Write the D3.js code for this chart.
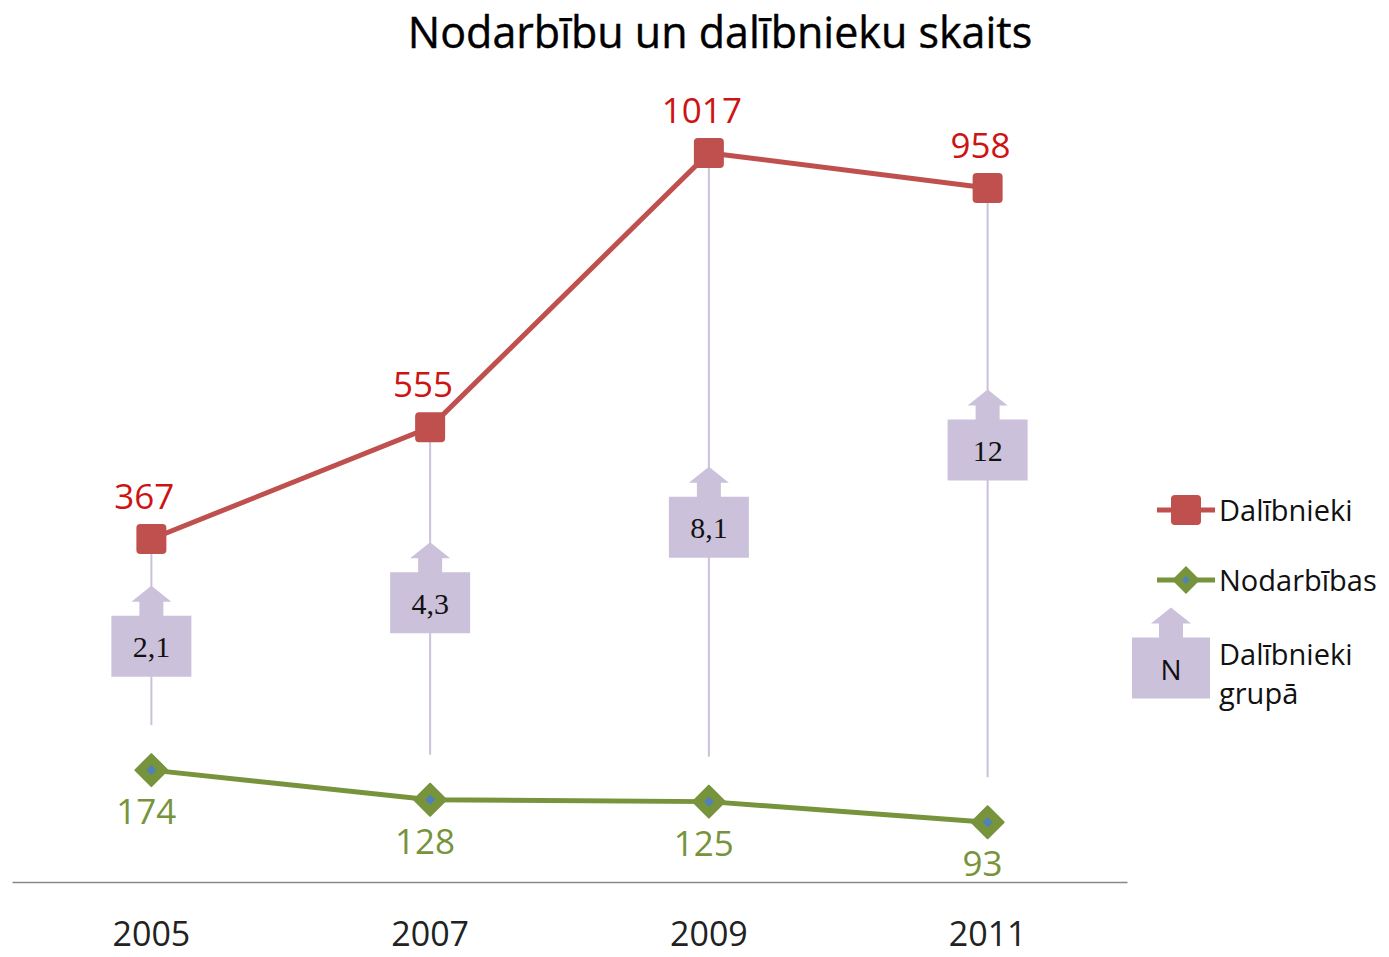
<!DOCTYPE html>
<html>
<head>
<meta charset="utf-8">
<script src="https://cdn.jsdelivr.net/npm/d3@7"></script>
<style>
  html, body { margin: 0; padding: 0; background: #fff; }
  svg { display: block; }
</style>
</head>
<body>
<svg id="chart" width="1389" height="957"></svg>
<script>
// ---- Data ----
const years = ["2005", "2007", "2009", "2011"];
const dalibnieki = [367, 555, 1017, 958];
const nodarbibas = [174, 128, 125, 93];
const dalibniekiGrupa = [2.1, 4.3, 8.1, 12];
const grupaLabels = ["2,1", "4,3", "8,1", "12"];
const titleText = "Nodarbību un dalībnieku skaits";

// ---- Styles ----
const RED = "#C0504D", RED_TXT = "#CC1414";
const GREEN = "#77933C", BLUE = "#4F81BD";
const LAV = "#CCC1DA";
const SANS = "'Open Sans', 'Noto Sans', sans-serif";
const SERIF = "'Liberation Serif', 'DejaVu Serif', serif";

const svg = d3.select("#chart");

// ---- Scales ----
const x = d3.scaleBand().domain(years).range([12, 1127]).padding(0);
const cx = d => x(d) + x.bandwidth() / 2;
const yN = d3.scaleLinear().domain([0, 1000]).range([882, 239]);   // Nodarbības
const yD = d3.scaleLinear().domain([0, 1000]).range([757, 163]);   // Dalībnieki (secondary)
const yG = d3.scaleLinear().domain([0, 12]).range([688, 450]);     // Dalībnieki grupā

// ---- Title ----
svg.append("text").attr("x", 720).attr("y", 48).attr("text-anchor", "middle")
  .attr("font-family", SANS).attr("font-size", 43).attr("fill", "#000")
  .attr("stroke", "#000").attr("stroke-width", 0.4)
  .text(titleText);

// ---- Axis ----
const xAxis = d3.axisBottom(x).tickSize(0).tickPadding(40);
const ax = svg.append("g").attr("transform", "translate(0,882)").call(xAxis);
ax.select(".domain").attr("stroke", "#888").attr("stroke-width", 1.5);
ax.selectAll("text").attr("font-family", SANS).attr("font-size", 34).attr("fill", "#222");

// ---- Vertical connector lines ----
svg.append("g").selectAll("line").data(years).join("line")
  .attr("x1", d => cx(d)).attr("x2", d => cx(d))
  .attr("y1", (d, i) => yD(dalibnieki[i]))
  .attr("y2", (d, i) => yN(nodarbibas[i]) - 45)
  .attr("stroke", LAV).attr("stroke-width", 2);

// ---- Arrow callouts ----
function arrowPath(w, h, stemW, headW, stemH, headH) {
  const t = -h / 2;
  return `M${-w/2},${h/2} L${-w/2},${t} L${-stemW/2},${t} L${-stemW/2},${t-stemH} L${-headW/2},${t-stemH}
    L0,${t-stemH-headH} L${headW/2},${t-stemH} L${stemW/2},${t-stemH} L${stemW/2},${t} L${w/2},${t} L${w/2},${h/2} Z`;
}
const arrows = svg.append("g").selectAll("g").data(years).join("g")
  .attr("transform", (d, i) => `translate(${cx(d)},${yG(dalibniekiGrupa[i])})`);
arrows.append("path").attr("d", arrowPath(80, 61, 24, 40, 14, 16)).attr("fill", LAV);
arrows.append("text").attr("text-anchor", "middle").attr("y", 11)
  .attr("font-family", SERIF).attr("font-size", 30).attr("fill", "#111")
  .text((d, i) => grupaLabels[i]);

// ---- Lines ----
const lineD = d3.line().x((d, i) => cx(years[i])).y(d => yD(d));
const lineN = d3.line().x((d, i) => cx(years[i])).y(d => yN(d));
svg.append("path").datum(dalibnieki).attr("d", lineD).attr("fill", "none")
  .attr("stroke", RED).attr("stroke-width", 5);
svg.append("path").datum(nodarbibas).attr("d", lineN).attr("fill", "none")
  .attr("stroke", GREEN).attr("stroke-width", 5);

// markers
svg.append("g").selectAll("rect").data(dalibnieki).join("rect")
  .attr("x", (d, i) => cx(years[i]) - 15).attr("y", d => yD(d) - 15)
  .attr("width", 30).attr("height", 30).attr("rx", 4).attr("fill", RED);
const dm = svg.append("g").selectAll("g").data(nodarbibas).join("g")
  .attr("transform", (d, i) => `translate(${cx(years[i])},${yN(d)})`);
dm.append("path").attr("d", "M0,-16 L16,0 L0,16 L-16,0 Z").attr("fill", GREEN)
  .attr("stroke", GREEN).attr("stroke-width", 2).attr("stroke-linejoin", "round");
dm.append("path").attr("d", "M0,-5 L5,0 L0,5 L-5,0 Z").attr("fill", BLUE);

// data labels
svg.append("g").selectAll("text").data(dalibnieki).join("text")
  .attr("x", (d, i) => cx(years[i]) - 7).attr("y", d => yD(d) - 30)
  .attr("text-anchor", "middle").attr("font-family", SANS).attr("font-size", 35)
  .attr("fill", RED_TXT).text(d => d);
svg.append("g").selectAll("text").data(nodarbibas).join("text")
  .attr("x", (d, i) => cx(years[i]) - 5).attr("y", d => yN(d) + 54)
  .attr("text-anchor", "middle").attr("font-family", SANS).attr("font-size", 35)
  .attr("fill", GREEN).text(d => d);

// ---- Legend ----
const lg = svg.append("g");
lg.append("line").attr("x1", 1157).attr("x2", 1215).attr("y1", 510).attr("y2", 510)
  .attr("stroke", RED).attr("stroke-width", 5);
lg.append("rect").attr("x", 1171).attr("y", 495).attr("width", 30).attr("height", 30)
  .attr("rx", 4).attr("fill", RED);
lg.append("text").attr("x", 1219).attr("y", 521).attr("font-family", SANS)
  .attr("font-size", 29).attr("fill", "#111").text("Dalībnieki");
lg.append("line").attr("x1", 1157).attr("x2", 1215).attr("y1", 580).attr("y2", 580)
  .attr("stroke", GREEN).attr("stroke-width", 5);
lg.append("path").attr("transform", "translate(1186,580)")
  .attr("d", "M0,-14 L14,0 L0,14 L-14,0 Z").attr("fill", GREEN);
lg.append("path").attr("transform", "translate(1186,580)")
  .attr("d", "M0,-4 L4,0 L0,4 L-4,0 Z").attr("fill", BLUE);
lg.append("text").attr("x", 1219).attr("y", 591).attr("font-family", SANS)
  .attr("font-size", 29).attr("fill", "#111").text("Nodarbības");
lg.append("path").attr("transform", "translate(1171,668)")
  .attr("d", arrowPath(78, 61, 24, 40, 14, 16)).attr("fill", LAV);
lg.append("text").attr("x", 1171).attr("y", 680).attr("text-anchor", "middle")
  .attr("font-family", SANS).attr("font-size", 28).attr("fill", "#111").text("N");
lg.append("text").attr("x", 1219).attr("y", 665).attr("font-family", SANS)
  .attr("font-size", 29).attr("fill", "#111").text("Dalībnieki");
lg.append("text").attr("x", 1219).attr("y", 704).attr("font-family", SANS)
  .attr("font-size", 29).attr("fill", "#111").text("grupā");
</script>
</body>
</html>
